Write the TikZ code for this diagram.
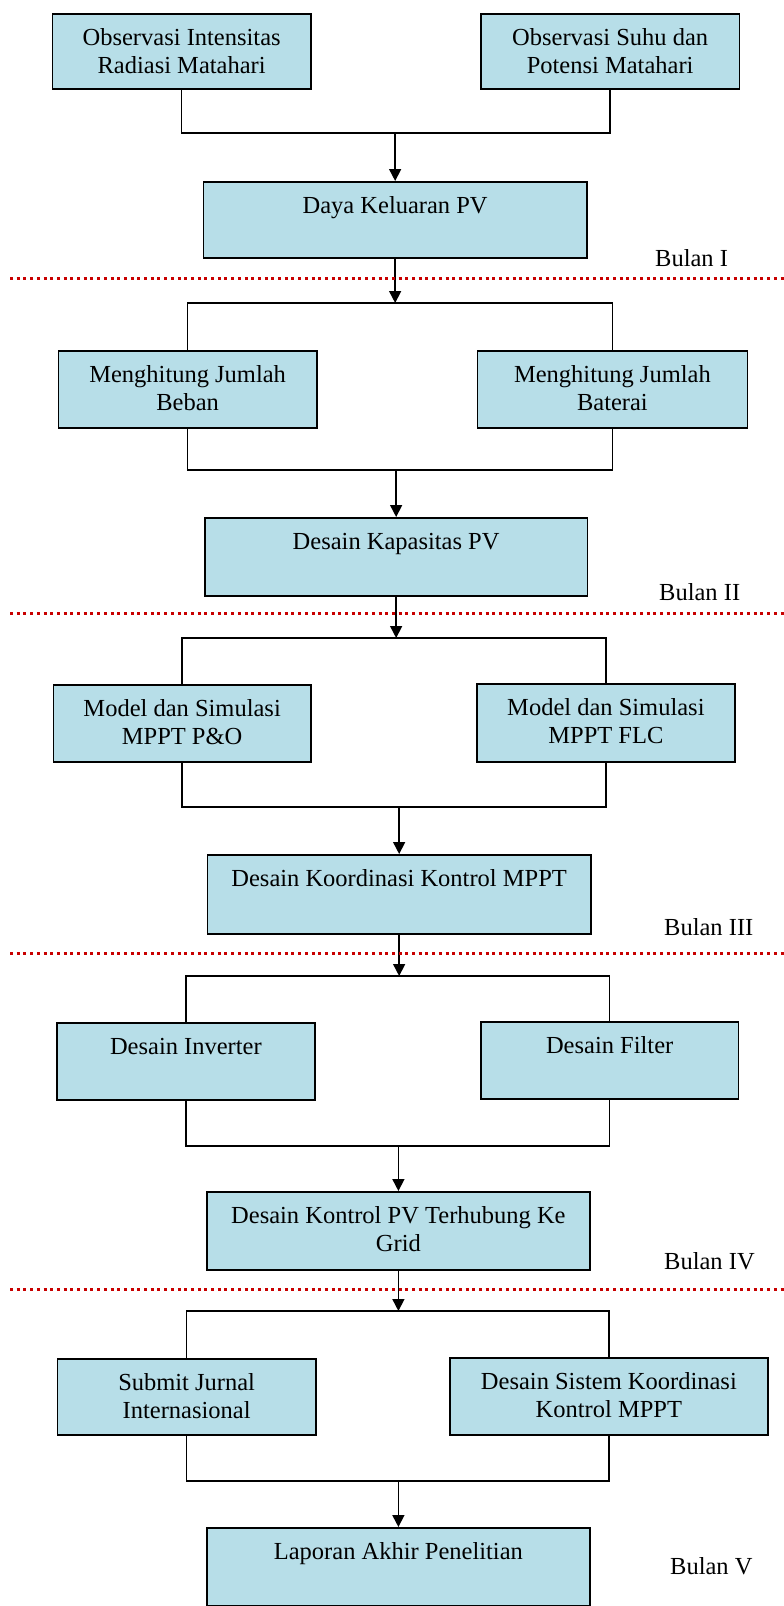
\documentclass[tikz,border=0pt]{standalone}
\usepackage{fontspec}
\setmainfont{Liberation Serif}
\usetikzlibrary{arrows.meta}
\definecolor{boxblue}{RGB}{183,222,232}
\definecolor{phasered}{RGB}{200,0,0}
% box content: fixed-size parbox, first baseline 32pt below the top edge
\newcommand\boxtxt[3]{\parbox[t][#2pt][t]{#1pt}{\centering\rule{0pt}{32pt}#3}}
\tikzset{
  stage/.style={draw=black, fill=boxblue, line width=1.8pt, inner sep=0pt, anchor=north west},
  conn/.style={draw=black, line width=1.6pt},
  arr/.style={conn, -{Triangle[length=12pt,width=12pt]}},
  phase/.style={draw=phasered, line width=3pt, dash pattern=on 3pt off 3.7pt},
  month/.style={anchor=base west, inner sep=0pt}
}
\begin{document}
\begin{tikzpicture}[x=1pt, y=-1pt, font=\fontsize{24.5}{27.7}\selectfont]
\useasboundingbox (0,0) rectangle (784,1606);

% ---- month I
\node[stage] (a1) at (51.5,13)  {\boxtxt{258.5}{75}{Observasi Intensitas\\Radiasi Matahari}};
\node[stage] (a2) at (480,13)   {\boxtxt{258.5}{75}{Observasi Suhu dan\\Potensi Matahari}};
\node[stage] (b)  at (202.5,181){\boxtxt{383.5}{76}{Daya Keluaran PV}};
\coordinate (ja) at (0,133);
\draw[conn] (a1.south) -- (a1.south |- ja) -- (a2.south |- ja) -- (a2.south);
\draw[arr] (b.north |- ja) -- (b.north);
\node[month] (m1) at (655,266) {Bulan I};

% ---- month II
\node[stage] (c1) at (57.5,350) {\boxtxt{258.5}{77}{Menghitung Jumlah\\Beban}};
\node[stage] (c2) at (476.5,350){\boxtxt{270}{77}{Menghitung Jumlah\\Baterai}};
\node[stage] (d)  at (204,517)  {\boxtxt{382.5}{78}{Desain Kapasitas PV}};
\coordinate (sb) at (0,303);
\coordinate (jc) at (0,470);
\draw[arr] (b.south) -- (b.south |- sb);
\draw[conn] (c1.north) -- (c1.north |- sb) -- (c2.north |- sb) -- (c2.north);
\draw[conn] (c1.south) -- (c1.south |- jc) -- (c2.south |- jc) -- (c2.south);
\draw[arr] (d.north |- jc) -- (d.north);
\node[month] (m2) at (659,600) {Bulan II};

% ---- month III
\node[stage] (e1) at (52.5,684) {\boxtxt{257.5}{77}{Model dan Simulasi\\MPPT P\&O}};
\node[stage] (e2) at (476,683)  {\boxtxt{258}{78}{Model dan Simulasi\\MPPT FLC}};
\node[stage] (f)  at (206.5,854){\boxtxt{383.5}{79}{Desain Koordinasi Kontrol MPPT}};
\coordinate (sd) at (0,638);
\coordinate (je) at (0,807);
\draw[arr] (d.south) -- (d.south |- sd);
\draw[conn] (e1.north) -- (e1.north |- sd) -- (e2.north |- sd) -- (e2.north);
\draw[conn] (e1.south) -- (e1.south |- je) -- (e2.south |- je) -- (e2.south);
\draw[arr] (f.north |- je) -- (f.north);
\node[month] (m3) at (664,935) {Bulan III};

% ---- month IV
\node[stage] (g1) at (56,1022)  {\boxtxt{258}{77}{Desain Inverter}};
\node[stage] (g2) at (480,1021) {\boxtxt{257.5}{77}{Desain Filter}};
\node[stage] (h)  at (206,1191) {\boxtxt{383}{78}{Desain Kontrol PV Terhubung Ke\\Grid}};
\coordinate (sf) at (0,976);
\coordinate (jg) at (0,1146);
\draw[arr] (f.south) -- (f.south |- sf);
\draw[conn] (g1.north) -- (g1.north |- sf) -- (g2.north |- sf) -- (g2.north);
\draw[conn] (g1.south) -- (g1.south |- jg) -- (g2.south |- jg) -- (g2.south);
\draw[arr] (h.north |- jg) -- (h.north);
\node[month] (m4) at (664,1269) {Bulan IV};

% ---- month V
\node[stage] (i1) at (56.5,1358){\boxtxt{258.5}{76}{Submit Jurnal\\Internasional}};
\node[stage] (i2) at (449,1357) {\boxtxt{318}{77}{Desain Sistem Koordinasi\\Kontrol MPPT}};
\node[stage] (j)  at (206,1527) {\boxtxt{383}{78}{Laporan Akhir Penelitian}};
\coordinate (sh) at (0,1311);
\coordinate (ji) at (0,1481);
\draw[arr] (h.south) -- (h.south |- sh);
\draw[conn] (i1.north) -- (i1.north |- sh) -- (i2.north |- sh) -- (i2.north);
\draw[conn] (i1.south) -- (i1.south |- ji) -- (i2.south |- ji) -- (i2.south);
\draw[arr] (j.north |- ji) -- (j.north);
\node[month] (m5) at (670,1574) {Bulan V};

% ---- month separators
\foreach \yy in {278,613,953,1289}
  \draw[phase] (10,\yy) -- (784,\yy);
\end{tikzpicture}
\end{document}
